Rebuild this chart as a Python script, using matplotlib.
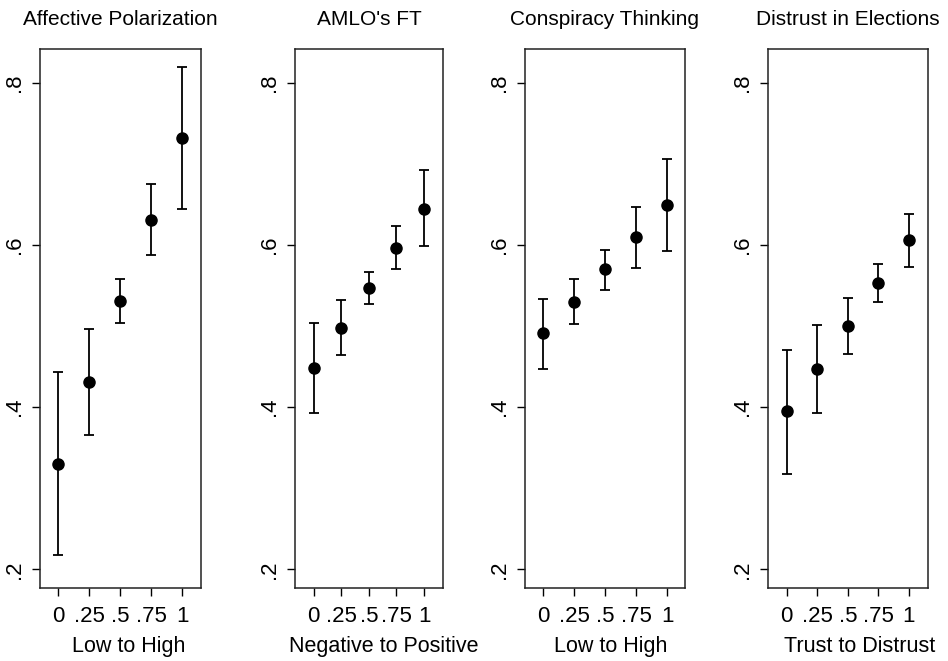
import matplotlib
matplotlib.use("Agg")
import numpy as np
import matplotlib.pyplot as plt

plt.rcParams["font.family"] = ["Liberation Sans", "DejaVu Sans"]

# x levels shared by every panel
levels = [0, 0.25, 0.5, 0.75, 1]
level_labels = ["0", ".25", ".5", ".75", "1"]

titles = ["Affective Polarization", "AMLO's FT", "Conspiracy Thinking", "Distrust in Elections"]
xlabels = ["Low to High", "Negative to Positive", "Low to High", "Trust to Distrust"]

# predicted values and 95% CIs
affective_est = [0.330, 0.431, 0.531, 0.631, 0.732]
affective_lo = [0.218, 0.366, 0.504, 0.588, 0.644]
affective_hi = [0.443, 0.496, 0.558, 0.675, 0.820]

amlo_est = [0.448, 0.498, 0.547, 0.596, 0.645]
amlo_lo = [0.393, 0.464, 0.527, 0.570, 0.599]
amlo_hi = [0.504, 0.532, 0.567, 0.624, 0.693]

conspiracy_est = [0.491, 0.530, 0.570, 0.610, 0.650]
conspiracy_lo = [0.447, 0.503, 0.545, 0.572, 0.593]
conspiracy_hi = [0.534, 0.558, 0.594, 0.647, 0.706]

distrust_est = [0.395, 0.447, 0.500, 0.553, 0.606]
distrust_lo = [0.318, 0.393, 0.466, 0.530, 0.573]
distrust_hi = [0.471, 0.502, 0.535, 0.577, 0.638]

yticks = [0.2, 0.4, 0.6, 0.8]
ytick_labels = [".2", ".4", ".6", ".8"]

panels = [
    (affective_est, affective_lo, affective_hi),
    (amlo_est, amlo_lo, amlo_hi),
    (conspiracy_est, conspiracy_lo, conspiracy_hi),
    (distrust_est, distrust_lo, distrust_hi),
]

# axes boxes in pixels: left, right, xlim, xlabel shift (px)
W, H = 948, 661
boxes = [
    (39.5, 200.7, -0.147, 1.147, 9),
    (295.0, 443.3, -0.17, 1.175, 15),
    (525.0, 685.0, -0.148, 1.143, 6),
    (767.7, 927.7, -0.155, 1.153, 11.5),
]
top_px, bottom_px = 49.0, 588.3

fig = plt.figure(figsize=(W / 100, H / 100), dpi=100)

for i, (est, lo, hi) in enumerate(panels):
    left, right, x0, x1, shift = boxes[i]
    ax = fig.add_axes([left / W, 1 - bottom_px / H, (right - left) / W, (bottom_px - top_px) / H])
    est = np.array(est)
    yerr = np.vstack([est - np.array(lo), np.array(hi) - est])
    ax.errorbar(levels, est, yerr=yerr, fmt="o", color="black", markersize=8,
                elinewidth=1.3, capsize=3.9, capthick=1.3)
    ax.set_xlim(x0, x1)
    ax.set_ylim(0.1765, 0.842)
    ax.set_xticks(levels)
    ax.set_xticklabels(level_labels)
    ax.set_yticks(yticks)
    ax.set_yticklabels(ytick_labels)
    for lab in ax.get_yticklabels():
        lab.set_rotation(90)
        lab.set_va("center")
        lab.set_ha("right")
    ax.tick_params(axis="both", labelsize=16, width=1.0, color="black", length=5.5)
    ax.tick_params(axis="x", pad=7.5)
    ax.tick_params(axis="y", pad=5)
    for sp in ax.spines.values():
        sp.set_linewidth(1.1)
        sp.set_color("#222222")
    ax.set_title(titles[i], fontsize=15, pad=17)
    ax.set_xlabel(xlabels[i], fontsize=15.5, labelpad=6.5)
    ax.xaxis.label.set_x(0.5 + shift / (right - left))

fig.savefig("out.png", dpi=100, facecolor="white")
